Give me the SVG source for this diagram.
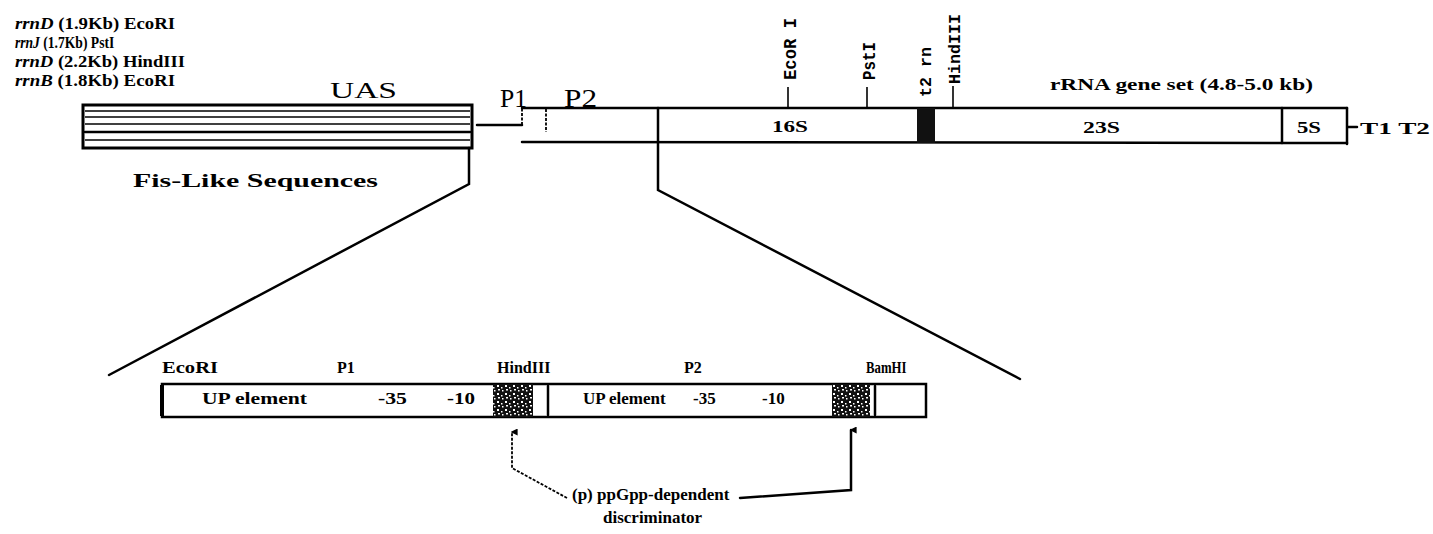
<svg xmlns="http://www.w3.org/2000/svg" width="1433" height="534" viewBox="0 0 1433 534">
<defs>
<style>
.t{font-family:"Liberation Serif","Times New Roman",serif;font-weight:bold;fill:#000}
.r{font-family:"Liberation Serif","Times New Roman",serif;fill:#000}
.m{font-family:"Liberation Mono","Courier New",monospace;font-weight:bold;fill:#000}
.ln{stroke:#000;stroke-width:2.5;fill:none;stroke-linecap:round}
.thin{stroke:#000;stroke-width:1.6;fill:none}
.dash{stroke:#000;stroke-width:1.8;fill:none;stroke-dasharray:3 1.5}
.box{fill:#fff;stroke:#000;stroke-width:2.5}
</style>
<pattern id="stip" width="8" height="8" patternUnits="userSpaceOnUse">
<rect width="8" height="8" fill="#111"/>
<rect x="1" y="1" width="2" height="2" fill="#fff"/>
<rect x="5" y="3" width="1.5" height="1.5" fill="#fff"/>
<rect x="2" y="5" width="2" height="1.5" fill="#fff"/>
<rect x="6" y="6" width="1.5" height="1.5" fill="#fff"/>
</pattern>
<marker id="ah" viewBox="0 0 10 10" refX="5" refY="2" markerWidth="7" markerHeight="7" orient="auto-start-reverse" markerUnits="userSpaceOnUse">
<path d="M0,10 L5,0 L10,10 Z" fill="#000"/>
</marker>
</defs>
<rect width="1433" height="534" fill="#fff"/>

<g id="legend">
<text class="t" x="15" y="29" font-size="16" textLength="160" lengthAdjust="spacingAndGlyphs"><tspan font-style="italic">rrnD</tspan> (1.9Kb) EcoRI</text>
<text class="t" transform="translate(15,48) scale(0.85,1)" font-size="16"><tspan font-style="italic">rrnJ</tspan> (1.7Kb) PstI</text>
<text class="t" x="15" y="67" font-size="16" textLength="170" lengthAdjust="spacingAndGlyphs"><tspan font-style="italic">rrnD</tspan> (2.2Kb) HindIII</text>
<text class="t" x="15" y="86" font-size="16" textLength="160" lengthAdjust="spacingAndGlyphs"><tspan font-style="italic">rrnB</tspan> (1.8Kb) EcoRI</text>
</g>

<g id="uas">
<rect x="83" y="105" width="389" height="43" fill="#fff" stroke="#000" stroke-width="3"/>
<line class="thin" x1="85" y1="111" x2="470" y2="111"/>
<line class="thin" x1="85" y1="117" x2="470" y2="117"/>
<line class="thin" x1="85" y1="124" x2="470" y2="124"/>
<line class="ln" x1="85" y1="132" x2="470" y2="132"/>
<line class="thin" x1="85" y1="140" x2="470" y2="140"/>
<text class="r" x="330" y="98" font-size="23" textLength="67" lengthAdjust="spacingAndGlyphs">UAS</text>
<text class="t" x="133" y="187" font-size="19" textLength="245" lengthAdjust="spacingAndGlyphs">Fis-Like Sequences</text>
</g>

<g id="rrna">
<line class="ln" x1="522" y1="108" x2="1347" y2="108"/>
<line class="ln" x1="522" y1="142" x2="1347" y2="143"/>
<line class="ln" x1="1347" y1="108" x2="1347" y2="144"/>
<line class="ln" x1="1282" y1="108" x2="1282" y2="143"/>
<line class="ln" x1="658" y1="108" x2="658" y2="142"/>
<rect x="917" y="108" width="18" height="35" fill="#111"/>
<line class="dash" x1="546" y1="109" x2="546" y2="132"/>
<text class="t" x="772" y="132" font-size="17" textLength="36" lengthAdjust="spacingAndGlyphs">16S</text>
<text class="t" x="1083" y="133" font-size="17" textLength="37" lengthAdjust="spacingAndGlyphs">23S</text>
<text class="t" x="1297" y="133" font-size="17" textLength="24" lengthAdjust="spacingAndGlyphs">5S</text>
<text class="t" x="1050" y="90" font-size="17" textLength="263" lengthAdjust="spacingAndGlyphs">rRNA gene set (4.8-5.0 kb)</text>
<line class="ln" x1="1348" y1="127" x2="1357" y2="127"/>
<text class="t" x="1360" y="134" font-size="17" textLength="70" lengthAdjust="spacingAndGlyphs">T1 T2</text>
<text class="r" x="500" y="107" font-size="25" textLength="27" lengthAdjust="spacingAndGlyphs">P1</text>
<text class="r" x="564" y="107" font-size="25" textLength="33" lengthAdjust="spacingAndGlyphs">P2</text>
</g>

<g id="sites">
<line class="thin" x1="788" y1="87" x2="788" y2="108"/>
<line class="thin" x1="867" y1="87" x2="867" y2="108"/>
<line class="thin" x1="953" y1="86" x2="953" y2="108"/>
<text class="m" transform="translate(796,80) rotate(-90)" font-size="19" textLength="62" lengthAdjust="spacingAndGlyphs">EcoR I</text>
<text class="m" transform="translate(875,80) rotate(-90)" font-size="19" textLength="38" lengthAdjust="spacingAndGlyphs">PstI</text>
<text class="m" transform="translate(931,97) rotate(-90)" font-size="17" textLength="50" lengthAdjust="spacingAndGlyphs">t2 rn</text>
<text class="m" transform="translate(960,84) rotate(-90)" font-size="17" textLength="70" lengthAdjust="spacingAndGlyphs">HindIII</text>
</g>

<g id="promoter">
<rect x="162" y="384" width="764" height="33" class="box"/>
<line x1="162" y1="385" x2="162" y2="416" stroke="#000" stroke-width="4"/>
<rect x="493" y="384" width="40" height="33" fill="url(#stip)"/>
<rect x="832" y="384" width="38" height="33" fill="url(#stip)"/>
<line class="ln" x1="548" y1="386" x2="548" y2="415"/>
<line class="ln" x1="875" y1="386" x2="875" y2="415"/>
<text class="t" x="202" y="404" font-size="17" textLength="105" lengthAdjust="spacingAndGlyphs">UP element</text>
<text class="t" x="378" y="404" font-size="17" textLength="29" lengthAdjust="spacingAndGlyphs">-35</text>
<text class="t" x="447" y="404" font-size="17" textLength="28" lengthAdjust="spacingAndGlyphs">-10</text>
<text class="t" x="583" y="404" font-size="17">UP element</text>
<text class="t" x="693" y="404" font-size="17">-35</text>
<text class="t" x="762" y="404" font-size="17">-10</text>
<text class="t" x="162" y="373" font-size="16" textLength="56" lengthAdjust="spacingAndGlyphs">EcoRI</text>
<text class="t" x="337" y="373" font-size="16">P1</text>
<text class="t" x="497" y="373" font-size="16">HindIII</text>
<text class="t" x="684" y="373" font-size="16">P2</text>
<text class="t" transform="translate(866,373) scale(0.8,1)" font-size="16">BamHI</text>
</g>

<g id="discriminator">
<text class="t" x="572" y="500" font-size="17">(p) ppGpp-dependent</text>
<text class="t" x="603" y="523" font-size="17">discriminator</text>
</g>

<g id="connectors">
<polyline class="ln" points="477,125 522,125"/>
<line class="dash" x1="522" y1="125" x2="522" y2="108"/>
<polyline class="ln" points="469,148 469,184 109,375"/>
<polyline class="ln" points="658,142 658,190 1020,379"/>
<polyline class="dash" points="567,498 512,468 512,432" marker-end="url(#ah)"/>
<polyline class="ln" points="740,498 851,490 851,430" marker-end="url(#ah)"/>
</g>
</svg>
